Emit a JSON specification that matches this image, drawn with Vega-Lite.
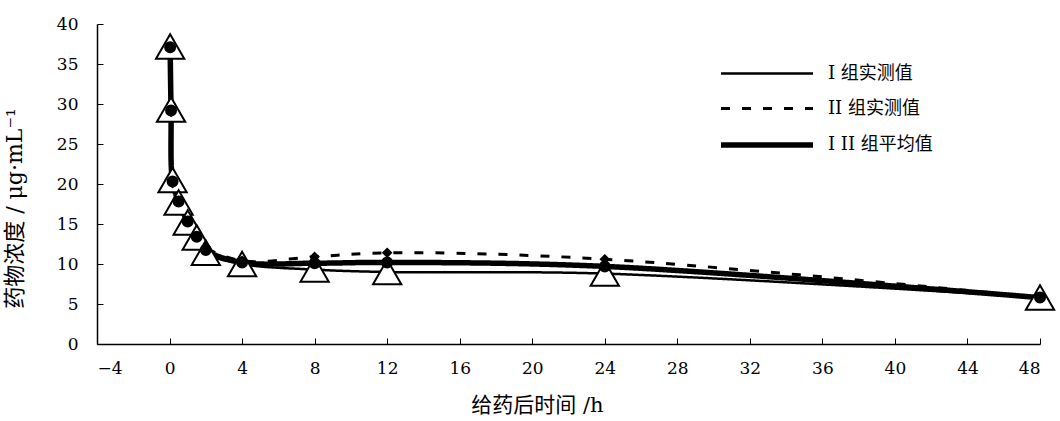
{
  "$schema": "https://vega.github.io/schema/vega-lite/v6.json",
  "width": 943,
  "height": 320,
  "autosize": {"type": "none"},
  "padding": {"left": 97, "top": 24, "right": 20, "bottom": 77},
  "background": "white",
  "config": {"view": {"stroke": null}, "font": "DejaVu Serif, Noto Sans CJK SC"},
  "data": {
    "values": [
      {"t": 0.033, "c": 37.2, "series": "I  组实测值", "grp": "I"},
      {"t": 0.083, "c": 29.3, "series": "I  组实测值", "grp": "I"},
      {"t": 0.167, "c": 20.5, "series": "I  组实测值", "grp": "I"},
      {"t": 0.5, "c": 17.7, "series": "I  组实测值", "grp": "I"},
      {"t": 1, "c": 15.2, "series": "I  组实测值", "grp": "I"},
      {"t": 1.5, "c": 13.3, "series": "I  组实测值", "grp": "I"},
      {"t": 2, "c": 11.4, "series": "I  组实测值", "grp": "I"},
      {"t": 4, "c": 10.0, "series": "I  组实测值", "grp": "I"},
      {"t": 8, "c": 9.3, "series": "I  组实测值", "grp": "I"},
      {"t": 12, "c": 9.0, "series": "I  组实测值", "grp": "I"},
      {"t": 24, "c": 8.8, "series": "I  组实测值", "grp": "I"},
      {"t": 48, "c": 5.8, "series": "I  组实测值", "grp": "I"},
      {"t": 0.033, "c": 37.0, "series": "II 组实测值", "grp": "II"},
      {"t": 0.083, "c": 29.0, "series": "II 组实测值", "grp": "II"},
      {"t": 0.167, "c": 20.1, "series": "II 组实测值", "grp": "II"},
      {"t": 0.5, "c": 17.9, "series": "II 组实测值", "grp": "II"},
      {"t": 1, "c": 15.4, "series": "II 组实测值", "grp": "II"},
      {"t": 1.5, "c": 13.5, "series": "II 组实测值", "grp": "II"},
      {"t": 2, "c": 12.1, "series": "II 组实测值", "grp": "II"},
      {"t": 4, "c": 10.4, "series": "II 组实测值", "grp": "II"},
      {"t": 8, "c": 10.9, "series": "II 组实测值", "grp": "II"},
      {"t": 12, "c": 11.4, "series": "II 组实测值", "grp": "II"},
      {"t": 24, "c": 10.6, "series": "II 组实测值", "grp": "II"},
      {"t": 48, "c": 5.8, "series": "II 组实测值", "grp": "II"},
      {"t": 0.033, "c": 37.1, "series": "I II 组平均值", "grp": "mean"},
      {"t": 0.083, "c": 29.2, "series": "I II 组平均值", "grp": "mean"},
      {"t": 0.167, "c": 20.3, "series": "I II 组平均值", "grp": "mean"},
      {"t": 0.5, "c": 17.8, "series": "I II 组平均值", "grp": "mean"},
      {"t": 1, "c": 15.3, "series": "I II 组平均值", "grp": "mean"},
      {"t": 1.5, "c": 13.4, "series": "I II 组平均值", "grp": "mean"},
      {"t": 2, "c": 11.75, "series": "I II 组平均值", "grp": "mean"},
      {"t": 4, "c": 10.2, "series": "I II 组平均值", "grp": "mean"},
      {"t": 8, "c": 10.1, "series": "I II 组平均值", "grp": "mean"},
      {"t": 12, "c": 10.2, "series": "I II 组平均值", "grp": "mean"},
      {"t": 24, "c": 9.7, "series": "I II 组平均值", "grp": "mean"},
      {"t": 48, "c": 5.8, "series": "I II 组平均值", "grp": "mean"}
    ]
  },
  "encoding": {
    "x": {
      "field": "t", "type": "quantitative",
      "scale": {"domain": [-4, 48], "nice": false, "zero": false},
      "axis": {
        "values": [-4, 0, 4, 8, 12, 16, 20, 24, 28, 32, 36, 40, 44, 48],
        "grid": false, "tickSize": -6, "tickColor": "black", "domainColor": "black", "domainWidth": 1.5,
        "labelPadding": 22, "labelFont": "DejaVu Serif", "labelFontSize": 17, "labelColor": "black",
        "title": "给药后时间 /h", "titleFont": "DejaVu Serif, Noto Sans CJK SC", "titleFontSize": 21, "titleFontWeight": "normal",
        "titleColor": "black", "titleX": 440, "titleY": 61, "titleBaseline": "middle", "titleAlign": "center"
      }
    },
    "y": {
      "field": "c", "type": "quantitative",
      "scale": {"domain": [0, 40], "nice": false},
      "axis": {
        "values": [0, 5, 10, 15, 20, 25, 30, 35, 40],
        "grid": false, "tickSize": -6, "tickColor": "black", "domainColor": "black", "domainWidth": 1.5,
        "labelPadding": 25, "labelFont": "DejaVu Serif", "labelFontSize": 17, "labelColor": "black",
        "title": "药物浓度 / μg·mL⁻¹", "titleFont": "DejaVu Serif, Noto Sans CJK SC", "titleFontSize": 22, "titleFontWeight": "normal",
        "titleColor": "black", "titleX": -83, "titleY": 184, "titleBaseline": "middle", "titleAlign": "center"
      }
    }
  },
  "layer": [
    {
      "mark": {"type": "line", "color": "black", "interpolate": "catmull-rom"},
      "encoding": {
        "strokeDash": {
          "field": "series", "type": "nominal",
          "scale": {"domain": ["I  组实测值", "II 组实测值", "I II 组平均值"], "range": [[1, 0], [9, 12], [1, 0]]},
          "legend": {
            "orient": "none", "legendX": 621, "legendY": 38, "title": null,
            "symbolType": "M-1,0H8.2", "symbolSize": 400, "symbolStrokeColor": "black",
            "labelFont": "DejaVu Serif, Noto Sans CJK SC", "labelFontSize": 18,
            "labelColor": "black", "rowPadding": 14, "labelOffset": 84
          }
        },
        "strokeWidth": {
          "field": "series", "type": "nominal",
          "scale": {"type": "ordinal", "domain": ["I  组实测值", "II 组实测值", "I II 组平均值"], "range": [2.5, 3, 5.5]},
          "legend": null
        }
      }
    },
    {
      "mark": {"type": "point", "stroke": "black", "strokeWidth": 2, "opacity": 1, "filled": false},
      "encoding": {
        "shape": {
          "field": "grp", "type": "nominal",
          "scale": {"domain": ["I", "II", "mean"], "range": ["triangle-up", "diamond", "circle"]},
          "legend": null
        },
        "fill": {
          "field": "grp", "type": "nominal",
          "scale": {"domain": ["I", "II", "mean"], "range": ["white", "black", "black"]},
          "legend": null
        },
        "size": {
          "field": "grp", "type": "nominal",
          "scale": {"type": "ordinal", "domain": ["I", "II", "mean"], "range": [800, 60, 100]},
          "legend": null
        }
      }
    }
  ]
}
